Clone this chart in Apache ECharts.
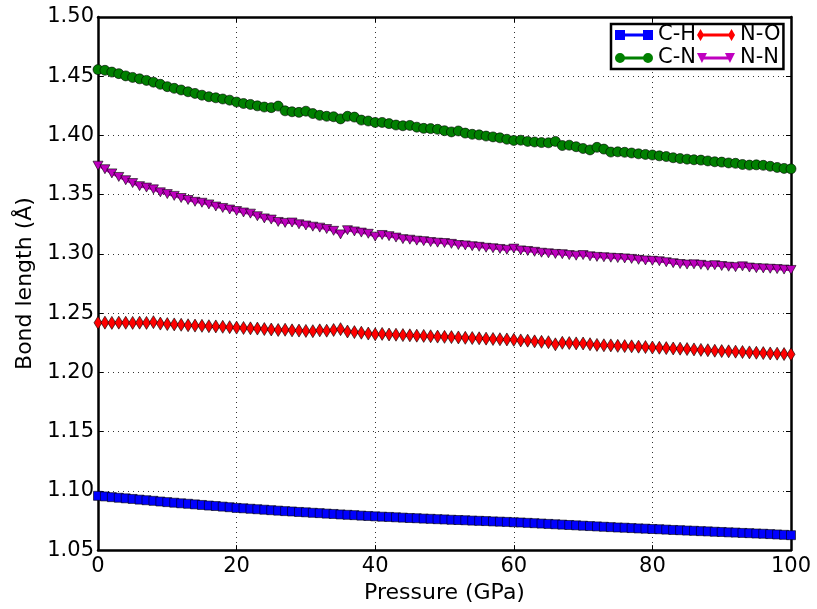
<!DOCTYPE html>
<html>
<head>
<meta charset="utf-8">
<script src="https://cdn.jsdelivr.net/npm/echarts@6/dist/echarts.min.js"></script>
<style>
  html, body { margin: 0; padding: 0; background: #fff; }
  #bond-chart { width: 817px; height: 609px; }
</style>
</head>
<body>
<div id="bond-chart"></div>
<script>
// pressure (GPa), one point per GPa
const pressure = [
  0,1,2,3,4,5,6,7,8,9,10,11,12,13,14,15,16,17,18,19,20,
  21,22,23,24,25,26,27,28,29,30,31,32,33,34,35,36,37,38,39,40,
  41,42,43,44,45,46,47,48,49,50,51,52,53,54,55,56,57,58,59,60,
  61,62,63,64,65,66,67,68,69,70,71,72,73,74,75,76,77,78,79,80,
  81,82,83,84,85,86,87,88,89,90,91,92,93,94,95,96,97,98,99,100
];

// bond lengths (Å)
const chBond = [
  1.0958,1.0953,1.0947,1.0942,1.0937,1.0932,1.0926,1.0921,1.0916,1.0910,1.0905,
  1.0900,1.0895,1.0891,1.0886,1.0881,1.0876,1.0872,1.0867,1.0862,1.0856,
  1.0853,1.0849,1.0845,1.0841,1.0837,1.0833,1.0829,1.0826,1.0822,1.0819,
  1.0815,1.0812,1.0808,1.0805,1.0801,1.0798,1.0795,1.0791,1.0788,1.0785,
  1.0782,1.0780,1.0777,1.0774,1.0771,1.0769,1.0766,1.0764,1.0761,1.0759,
  1.0756,1.0754,1.0752,1.0749,1.0747,1.0745,1.0742,1.0740,1.0738,1.0735,
  1.0733,1.0730,1.0727,1.0724,1.0721,1.0718,1.0715,1.0712,1.0709,1.0706,
  1.0703,1.0700,1.0697,1.0694,1.0691,1.0689,1.0686,1.0683,1.0681,1.0678,
  1.0676,1.0673,1.0670,1.0668,1.0665,1.0663,1.0660,1.0658,1.0655,1.0653,
  1.0650,1.0648,1.0645,1.0643,1.0640,1.0638,1.0635,1.0632,1.0629,1.0626
];
const cnBond = [
  1.4556,1.4550,1.4535,1.4522,1.4503,1.4490,1.4478,1.4465,1.4450,1.4432,1.4412,
  1.4398,1.4384,1.4369,1.4355,1.4340,1.4327,1.4318,1.4308,1.4298,1.4282,
  1.4270,1.4262,1.4250,1.4240,1.4235,1.4248,1.4208,1.4200,1.4195,1.4205,
  1.4185,1.4170,1.4162,1.4158,1.4140,1.4162,1.4155,1.4130,1.4122,1.4110,
  1.4110,1.4100,1.4088,1.4082,1.4085,1.4070,1.4060,1.4058,1.4052,1.4040,
  1.4030,1.4038,1.4020,1.4010,1.4005,1.3995,1.3988,1.3980,1.3968,1.3958,
  1.3960,1.3950,1.3945,1.3940,1.3938,1.3950,1.3915,1.3918,1.3905,1.3890,
  1.3878,1.3900,1.3885,1.3860,1.3862,1.3858,1.3852,1.3845,1.3840,1.3835,
  1.3828,1.3822,1.3812,1.3805,1.3800,1.3795,1.3792,1.3785,1.3778,1.3775,
  1.3768,1.3765,1.3755,1.3750,1.3752,1.3748,1.3740,1.3730,1.3722,1.3718
];
const noBond = [
  1.2419,1.2420,1.2418,1.2420,1.2419,1.2418,1.2420,1.2418,1.2424,1.2412,1.2408,
  1.2405,1.2402,1.2398,1.2395,1.2393,1.2390,1.2388,1.2385,1.2382,1.2378,
  1.2375,1.2372,1.2370,1.2366,1.2362,1.2358,1.2360,1.2355,1.2353,1.2350,
  1.2348,1.2355,1.2352,1.2358,1.2365,1.2345,1.2340,1.2335,1.2328,1.2322,
  1.2325,1.2320,1.2318,1.2315,1.2313,1.2310,1.2308,1.2305,1.2302,1.2300,
  1.2298,1.2295,1.2292,1.2290,1.2288,1.2285,1.2282,1.2280,1.2278,1.2275,
  1.2270,1.2268,1.2262,1.2258,1.2255,1.2237,1.2250,1.2248,1.2245,1.2244,
  1.2238,1.2232,1.2229,1.2228,1.2224,1.2222,1.2220,1.2217,1.2214,1.2210,
  1.2208,1.2205,1.2202,1.2200,1.2197,1.2194,1.2190,1.2187,1.2183,1.2180,
  1.2178,1.2175,1.2172,1.2169,1.2166,1.2163,1.2160,1.2158,1.2155,1.2153
];
const nnBond = [
  1.3745,1.3715,1.3680,1.3650,1.3622,1.3598,1.3572,1.3560,1.3545,1.3520,1.3505,
  1.3490,1.3472,1.3455,1.3440,1.3432,1.3418,1.3400,1.3388,1.3375,1.3362,
  1.3350,1.3340,1.3318,1.3300,1.3290,1.3270,1.3262,1.3265,1.3250,1.3240,
  1.3230,1.3222,1.3210,1.3195,1.3165,1.3200,1.3190,1.3180,1.3170,1.3146,
  1.3160,1.3150,1.3138,1.3125,1.3120,1.3112,1.3108,1.3100,1.3095,1.3092,
  1.3085,1.3075,1.3072,1.3065,1.3060,1.3052,1.3048,1.3042,1.3035,1.3045,
  1.3030,1.3025,1.3018,1.3010,1.3005,1.3000,1.2998,1.2990,1.2985,1.2990,
  1.2980,1.2975,1.2972,1.2968,1.2965,1.2962,1.2958,1.2950,1.2945,1.2942,
  1.2938,1.2930,1.2922,1.2915,1.2910,1.2912,1.2908,1.2900,1.2905,1.2898,
  1.2892,1.2888,1.2895,1.2885,1.2880,1.2878,1.2875,1.2872,1.2868,1.2865
];

const seriesColors = ['#0000ff', '#008000', '#ff0000', '#bf00bf'];

function pairs(values) {
  return values.map((v, i) => [pressure[i], v]);
}

const font = 'DejaVu Sans';

// legend icons: line with a marker at both ends, like matplotlib
const icons = {
  'C-H': 'path://M0,1L10,1L10,11L0,11ZM10,4.5L28,4.5L28,7.5L10,7.5ZM28,1L38,1L38,11L28,11Z',
  'C-N': 'path://M0,6A5,5,0,1,1,10,6A5,5,0,1,1,0,6ZM9,4.5L29,4.5L29,7.5L9,7.5ZM28,6A5,5,0,1,1,38,6A5,5,0,1,1,28,6Z',
  'N-O': 'path://M0,6L3.5,0L7,6L3.5,12ZM6,4.5L32,4.5L32,7.5L6,7.5ZM31,6L34.5,0L38,6L34.5,12Z',
  'N-N': 'path://M0,1L10,1L5,11ZM5,4.5L33,4.5L33,7.5L5,7.5ZM28,1L38,1L33,11Z'
};

let chart = echarts.init(document.getElementById('bond-chart'));

const frameLine = { show: true, onZero: false, lineStyle: { color: '#000', width: 2.5 } };
const dotted = { show: true, lineStyle: { color: '#333', width: 1, type: [1, 4] } };
const inTick = { show: true, inside: true, length: 5, lineStyle: { color: '#000' } };

chart.setOption({
  animation: false,
  textStyle: { fontFamily: font },
  grid: { left: 98, right: 26, top: 17, bottom: 55 },
  legend: {
    left: 611,
    top: 24,
    width: 172,
    padding: [0, 3, 0, 4],
    itemGap: 1,
    itemWidth: 38,
    itemHeight: 12,
    borderColor: '#000',
    borderWidth: 2.5,
    backgroundColor: '#fff',
    itemStyle: { borderWidth: 0 },
    textStyle: { fontFamily: font, fontSize: 21, color: '#000', lineHeight: 22 },
    data: ['C-H', 'N-O', 'C-N', 'N-N'].map(n => ({ name: n, icon: icons[n] }))
  },
  xAxis: [
    {
      type: 'value',
      min: 0,
      max: 100,
      interval: 20,
      position: 'bottom',
      name: 'Pressure (GPa)',
      nameLocation: 'middle',
      nameGap: 30,
      nameTextStyle: { fontFamily: font, fontSize: 22, color: '#000' },
      axisLine: frameLine,
      axisTick: inTick,
      axisLabel: { fontFamily: font, fontSize: 21, color: '#000', margin: 6 },
      splitLine: dotted
    },
    {
      type: 'value',
      min: 0,
      max: 100,
      interval: 20,
      position: 'top',
      axisLine: frameLine,
      axisTick: inTick,
      axisLabel: { show: false },
      splitLine: { show: false }
    }
  ],
  yAxis: [
    {
      type: 'value',
      min: 1.05,
      max: 1.50,
      interval: 0.05,
      position: 'left',
      name: 'Bond length (Å)',
      nameLocation: 'middle',
      nameGap: 50,
      nameTextStyle: { fontFamily: font, fontSize: 22, color: '#000' },
      axisLine: frameLine,
      axisTick: inTick,
      axisLabel: {
        fontFamily: font, fontSize: 21, color: '#000', margin: 4,
        formatter: v => v.toFixed(2)
      },
      splitLine: dotted
    },
    {
      type: 'value',
      min: 1.05,
      max: 1.50,
      interval: 0.05,
      position: 'right',
      axisLine: frameLine,
      axisTick: inTick,
      axisLabel: { show: false },
      splitLine: { show: false }
    }
  ],
  series: [
    {
      name: 'C-H',
      type: 'line',
      data: pairs(chBond),
      symbol: 'rect',
      symbolSize: 9,
      lineStyle: { width: 2.5 },
      itemStyle: { borderColor: '#000', borderWidth: 0.6 }
    },
    {
      name: 'C-N',
      type: 'line',
      data: pairs(cnBond),
      symbol: 'circle',
      symbolSize: 10,
      lineStyle: { width: 2.5 },
      itemStyle: { borderColor: '#000', borderWidth: 0.6 }
    },
    {
      name: 'N-O',
      type: 'line',
      data: pairs(noBond),
      symbol: 'diamond',
      symbolSize: [8, 13],
      lineStyle: { width: 2.5 },
      itemStyle: { borderColor: '#000', borderWidth: 0.6 }
    },
    {
      name: 'N-N',
      type: 'line',
      data: pairs(nnBond),
      symbol: 'triangle',
      symbolRotate: 180,
      symbolSize: [10, 9],
      lineStyle: { width: 2.5 },
      itemStyle: { borderColor: '#000', borderWidth: 0.6 }
    }
  ],
  color: seriesColors
});
</script>
</body>
</html>
